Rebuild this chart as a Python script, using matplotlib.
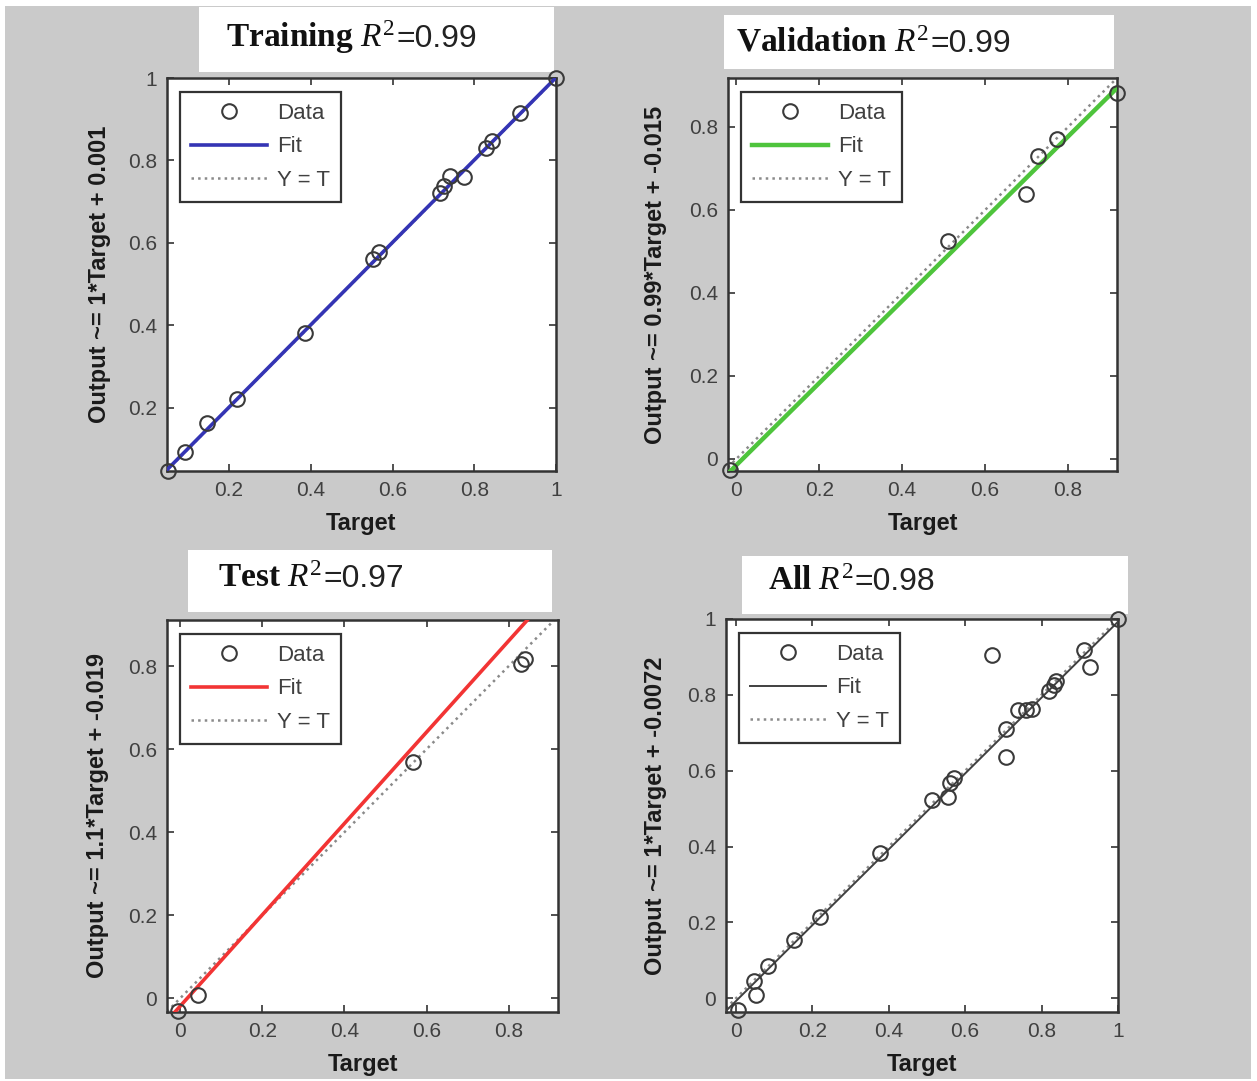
import matplotlib
matplotlib.use('Agg')
import matplotlib.pyplot as plt
from matplotlib.patches import Rectangle
from matplotlib.lines import Line2D
from matplotlib import font_manager

# --- data ---
titles = ['Training', 'Validation', 'Test', 'All']
r2_text = ['=0.99', '=0.99', '=0.97', '=0.98']
ylabels = ['Output ~= 1*Target + 0.001',
           'Output ~= 0.99*Target + -0.015',
           'Output ~= 1.1*Target + -0.019',
           'Output ~= 1*Target + -0.0072']
fit_slope = [1.0, 0.99, 1.1, 1.0]
fit_icept = [0.001, -0.015, -0.019, -0.0072]
fit_colors = ['#3434b4', '#4ec43c', '#f23434', '#404040']
fit_widths = [2.6, 3.2, 2.6, 1.4]

train_t = [0.05, 0.093, 0.146, 0.22, 0.385, 0.551, 0.566, 0.717, 0.727, 0.741, 0.776, 0.829, 0.844, 0.912, 1.0]
train_o = [0.047, 0.091, 0.162, 0.221, 0.381, 0.561, 0.578, 0.721, 0.738, 0.763, 0.759, 0.830, 0.847, 0.914, 1.0]

val_t = [-0.015, 0.511, 0.699, 0.728, 0.774, 0.918]
val_o = [-0.027, 0.525, 0.638, 0.729, 0.771, 0.883]

test_t = [-0.005, 0.044, 0.566, 0.829, 0.839]
test_o = [-0.030, 0.008, 0.568, 0.804, 0.816]

all_t = [1.0, 0.670, 0.911, 0.927, 0.838, 0.832, 0.820, 0.775, 0.759, 0.738, 0.707, 0.707,
         0.571, 0.560, 0.555, 0.513, 0.377, 0.220, 0.152, 0.084, 0.047, 0.052, 0.005]
all_o = [1.0, 0.905, 0.918, 0.873, 0.836, 0.827, 0.809, 0.764, 0.759, 0.759, 0.709, 0.636,
         0.582, 0.568, 0.532, 0.523, 0.382, 0.214, 0.155, 0.086, 0.045, 0.009, -0.032]

targets = [train_t, val_t, test_t, all_t]
outputs = [train_o, val_o, test_o, all_o]

xlims = [(0.048, 1.0), (-0.02, 0.918), (-0.032, 0.92), (-0.026, 1.0)]
ylims = [(0.046, 1.0), (-0.029, 0.918), (-0.033, 0.911), (-0.036, 1.0)]
ticks = [[0.2, 0.4, 0.6, 0.8, 1.0],
         [0, 0.2, 0.4, 0.6, 0.8],
         [0, 0.2, 0.4, 0.6, 0.8],
         [0, 0.2, 0.4, 0.6, 0.8, 1.0]]

# --- layout in pixels of the 1257x1081 picture ---
W, H = 1257, 1081
ax_boxes = [(167, 78, 556, 471), (728, 78, 1117, 471),
            (167, 620, 558, 1012), (726, 619, 1118, 1012)]
title_boxes = [(199, 7, 554, 72), (724, 15, 1114, 69),
               (188, 550, 552, 612), (742, 556, 1128, 614)]
title_pos = [(226, 47), (736, 52), (218, 587), (768, 590)]
ylabel_x = [100, 655, 98, 656]

names = {f.name for f in font_manager.fontManager.ttflist}
narrow = 'Liberation Sans Narrow' if 'Liberation Sans Narrow' in names else 'Liberation Sans'

plt.rcParams['font.family'] = 'Liberation Sans'
plt.rcParams['mathtext.fontset'] = 'custom'
plt.rcParams['mathtext.bf'] = 'Liberation Serif:bold'
plt.rcParams['mathtext.it'] = 'Liberation Serif:italic'
plt.rcParams['mathtext.rm'] = 'Liberation Serif'

fig = plt.figure(figsize=(W / 100, H / 100), dpi=100, facecolor='white')
fig.patches.append(Rectangle((5 / W, 1 - 1079 / H), 1246 / W, 1073 / H,
                             transform=fig.transFigure, facecolor='#cacaca',
                             edgecolor='none', zorder=-10))


def fx(x):
    return x / W


def fy(y):
    return 1 - y / H


renderer = fig.canvas.get_renderer()

for i in range(4):
    x0, y0, x1, y1 = title_boxes[i]
    fig.patches.append(Rectangle((fx(x0), fy(y1)), (x1 - x0) / W, (y1 - y0) / H,
                                 transform=fig.transFigure, facecolor='white',
                                 edgecolor='none', zorder=-5))
    tx, ty = title_pos[i]
    t1 = fig.text(fx(tx), fy(ty), r'$\mathbf{%s}\ \mathit{R}^{2}$' % titles[i],
                  fontsize=24, ha='left', va='baseline', color='#111111')
    bb = t1.get_window_extent(renderer=renderer)
    fig.text(bb.x1 / W + 0.001, fy(ty), r2_text[i], fontsize=23, family=narrow,
             ha='left', va='baseline', color='#222222')

    x0, y0, x1, y1 = ax_boxes[i]
    ax = fig.add_axes([fx(x0), fy(y1), (x1 - x0) / W, (y1 - y0) / H])
    ax.set_facecolor('white')
    lo, hi = xlims[i]
    ax.plot([lo, hi], [lo, hi], ':', color='#8a8a8a', lw=1.8, zorder=2)
    ax.plot([lo, hi], [fit_slope[i] * lo + fit_icept[i], fit_slope[i] * hi + fit_icept[i]],
            '-', color=fit_colors[i], lw=fit_widths[i], zorder=3)
    ax.plot(targets[i], outputs[i], 'o', mfc='none', mec='#3a3a3a', ms=10.5, mew=1.5,
            zorder=4, clip_on=False)
    ax.set_xlim(xlims[i])
    ax.set_ylim(ylims[i])
    ax.set_xticks(ticks[i])
    ax.set_yticks(ticks[i])
    ax.set_xticklabels(['%g' % v for v in ticks[i]])
    ax.set_yticklabels(['%g' % v for v in ticks[i]])
    ax.tick_params(direction='in', length=5, width=1.2, top=True, right=True,
                   labelsize=15, labelcolor='#404040', color='#333333', pad=7)
    for s in ax.spines.values():
        s.set_linewidth(1.8)
        s.set_color('#333333')

    handles = [Line2D([], [], marker='o', ls='none', mfc='none', mec='#3a3a3a', ms=10.5, mew=1.5),
               Line2D([], [], color=fit_colors[i], lw=fit_widths[i]),
               Line2D([], [], color='#8a8a8a', ls=':', lw=1.8)]
    leg = ax.legend(handles, ['Data', 'Fit', 'Y = T'], loc='upper left',
                    bbox_to_anchor=(13 / (x1 - x0), 1 - 14 / (y1 - y0)), borderaxespad=0,
                    fontsize=16, handlelength=3.4, handletextpad=0.45, labelspacing=0.55,
                    borderpad=0.5, fancybox=False, framealpha=1, labelcolor='#404040')
    leg.get_frame().set_edgecolor('#333333')
    leg.get_frame().set_linewidth(1.6)

    fig.text(fx(ylabel_x[i]), fy((y0 + y1) / 2), ylabels[i], rotation=90, fontsize=17,
             fontweight='bold', ha='center', va='center', color='#1a1a1a')
    fig.text(fx((x0 + x1) / 2), fy(y1 + 53), 'Target', fontsize=17, fontweight='bold',
             ha='center', va='center', color='#1a1a1a')

fig.savefig('out.png', dpi=100, facecolor=fig.get_facecolor())
